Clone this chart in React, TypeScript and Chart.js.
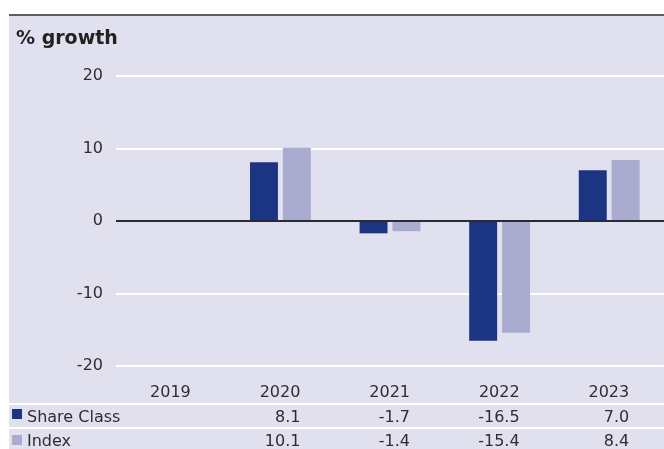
import React, { useEffect, useRef } from "react";
import { Chart, registerables } from "chart.js";

Chart.register(...registerables);

const years = ["2019", "2020", "2021", "2022", "2023"];
const shareClass: (number | null)[] = [null, 8.1, -1.7, -16.5, 7.0];
const indexValues: (number | null)[] = [null, 10.1, -1.4, -15.4, 8.4];
const shareClassText = ["", "8.1", "-1.7", "-16.5", "7.0"];
const indexText = ["", "10.1", "-1.4", "-15.4", "8.4"];
const seriesNames = ["Share Class", "Index"];
const seriesColors = ["#1c3583", "#a9accf"];
const yTicks = [-20, -10, 0, 10, 20];
const titleText = "% growth";

const W = 664;
const H = 449;
const FONT = "'DejaVu Sans', Verdana, sans-serif";
const BG = "#e0e0ee";
const TEXT = "#2e2e2e";

const framePlugin = {
  id: "frame",
  beforeDraw(chart: any) {
    const ctx = chart.ctx;
    ctx.save();
    ctx.fillStyle = "#ffffff";
    ctx.fillRect(0, 0, W, H);
    ctx.fillStyle = BG;
    ctx.fillRect(9, 16, W - 9, H - 16);
    ctx.fillStyle = "#5e5e5e";
    ctx.fillRect(9, 14, W - 9, 2);
    ctx.fillStyle = "#222222";
    ctx.font = `bold 19px ${FONT}`;
    ctx.textBaseline = "alphabetic";
    ctx.textAlign = "left";
    ctx.fillText(titleText, 16, 44);
    ctx.restore();
  },
  afterDraw(chart: any) {
    const ctx = chart.ctx;
    const x = chart.scales.x;
    ctx.save();
    // separator lines
    ctx.fillStyle = "#ffffff";
    ctx.fillRect(9, 403, W - 9, 2);
    ctx.fillRect(9, 427, W - 9, 2);
    ctx.font = `16px ${FONT}`;
    ctx.fillStyle = TEXT;
    ctx.textBaseline = "alphabetic";
    ctx.textAlign = "right";
    years.forEach((y, i) => {
      const cx = x.getPixelForValue(i) + 20;
      ctx.fillText(y, cx, 397);
      ctx.fillText(shareClassText[i], cx, 422);
      ctx.fillText(indexText[i], cx, 446);
    });
    // legend rows
    ctx.textAlign = "left";
    ctx.fillStyle = seriesColors[0];
    ctx.fillRect(12, 409, 10, 10);
    ctx.fillStyle = seriesColors[1];
    ctx.fillRect(12, 435, 10, 10);
    ctx.fillStyle = TEXT;
    ctx.fillText(seriesNames[0], 27, 422);
    ctx.fillText(seriesNames[1], 27, 446);
    ctx.restore();
  },
};

export default function App() {
  const ref = useRef<HTMLCanvasElement>(null);
  useEffect(() => {
    if (!ref.current) return;
    const chart = new Chart(ref.current, {
      type: "bar",
      data: {
        labels: years,
        datasets: [
          {
            label: seriesNames[0],
            data: shareClass,
            backgroundColor: seriesColors[0],
            categoryPercentage: 0.6,
            barPercentage: 0.85,
          },
          {
            label: seriesNames[1],
            data: indexValues,
            backgroundColor: seriesColors[1],
            categoryPercentage: 0.6,
            barPercentage: 0.85,
          },
        ],
      },
      options: {
        animation: false,
        responsive: false,
        devicePixelRatio: 1,
        layout: { padding: { top: 76, bottom: 83, left: 0, right: 0 } },
        plugins: { legend: { display: false }, tooltip: { enabled: false } },
        scales: {
          x: {
            type: "category",
            display: false,
            offset: true,
            grid: { display: false },
          },
          y: {
            min: -20,
            max: 20,
            afterFit(scale: any) {
              scale.width = 116;
            },
            afterBuildTicks(scale: any) {
              scale.ticks = yTicks.map((v) => ({ value: v }));
            },
            border: { display: false },
            grid: {
              drawTicks: false,
              lineWidth: 2,
              color: (c: any) => (c.tick && c.tick.value === 0 ? "#2b2b36" : "#ffffff"),
            },
            ticks: {
              padding: 13,
              color: TEXT,
              font: { family: FONT, size: 16 },
            },
          },
        },
      },
      plugins: [framePlugin],
    });
    return () => chart.destroy();
  }, []);
  return (
    <div style={{ position: "absolute", left: 0, top: 0, width: W, height: H }}>
      <canvas ref={ref} width={W} height={H} style={{ display: "block" }} />
    </div>
  );
}
